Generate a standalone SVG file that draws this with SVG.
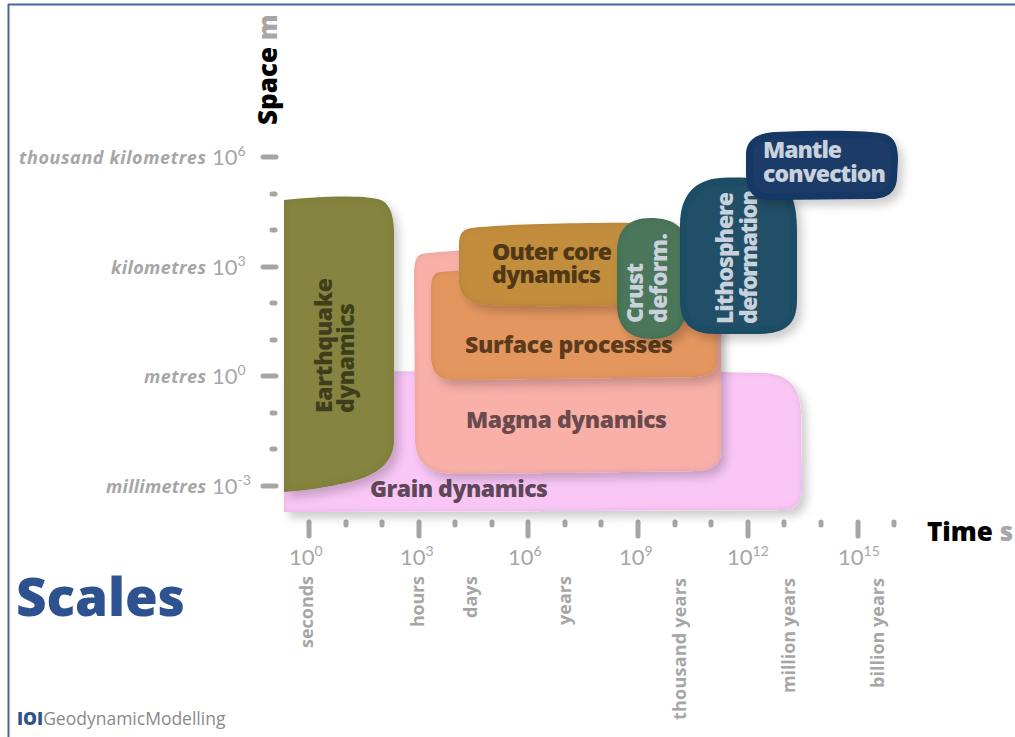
<svg xmlns="http://www.w3.org/2000/svg" width="1015" height="737" viewBox="0 0 1015 737">
<style>
.lbl{font-family:"Open Sans","Noto Sans","Liberation Sans",sans-serif;font-weight:800;font-size:23px}
.ax{font-family:"Open Sans","Noto Sans","Liberation Sans",sans-serif;fill:#a6a6a6}
.yw{font-weight:700;font-style:italic;font-size:18px}
.num{font-family:Lato,"Open Sans",sans-serif;font-weight:400;font-size:22px}
.unit{font-weight:700;font-size:18px}
.tk{stroke:#a6a6a6;stroke-width:5;stroke-linecap:round}
.lt{fill:#c9d2dc}
.hd{font-family:"Open Sans","Noto Sans","Liberation Sans",sans-serif;font-weight:800}
</style>
<defs>
<filter id="sh" x="-15%" y="-15%" width="135%" height="140%">
<feGaussianBlur in="SourceAlpha" stdDeviation="5" result="b"/>
<feOffset in="b" dx="5" dy="6" result="o"/>
<feFlood flood-color="#000" flood-opacity="0.2"/>
<feComposite in2="o" operator="in" result="ds"/>
<feGaussianBlur in="SourceAlpha" stdDeviation="3" result="ib"/>
<feComposite in="SourceAlpha" in2="ib" operator="arithmetic" k2="1" k3="-1" result="ring"/>
<feFlood flood-color="#000" flood-opacity="0.2"/>
<feComposite in2="ring" operator="in" result="inner"/>
<feMerge><feMergeNode in="ds"/><feMergeNode in="SourceGraphic"/><feMergeNode in="inner"/></feMerge>
</filter>
</defs>
<rect width="1015" height="737" fill="#fff"/>
<g id="frame" fill="none" stroke="#4766a6" stroke-width="2">
<line x1="8" y1="4.5" x2="1015" y2="4.5"/>
<line x1="8.5" y1="4" x2="8.5" y2="737"/>
</g>

<g id="y-axis">
<g class="tk">
<line x1="263" y1="157" x2="276" y2="157"/>
<line x1="272" y1="194" x2="275" y2="194"/>
<line x1="272" y1="230" x2="275" y2="230"/>
<line x1="263" y1="267" x2="276" y2="267"/>
<line x1="272" y1="303" x2="275" y2="303"/>
<line x1="272" y1="340" x2="275" y2="340"/>
<line x1="263" y1="376" x2="276" y2="376"/>
<line x1="272" y1="413" x2="275" y2="413"/>
<line x1="272" y1="449" x2="275" y2="449"/>
<line x1="263" y1="486" x2="276" y2="486"/>
</g>
<text class="ax yw" x="206" y="164" text-anchor="end" textLength="187">thousand kilometres</text>
<text class="ax yw" x="206" y="274" text-anchor="end" textLength="95">kilometres</text>
<text class="ax yw" x="206" y="383" text-anchor="end" textLength="62">metres</text>
<text class="ax yw" x="206" y="493" text-anchor="end" textLength="100">millimetres</text>
<text class="ax num" x="212" y="165">10<tspan font-size="14" dy="-9">6</tspan></text>
<text class="ax num" x="212" y="275">10<tspan font-size="14" dy="-9">3</tspan></text>
<text class="ax num" x="212" y="384">10<tspan font-size="14" dy="-9">0</tspan></text>
<text class="ax num" x="212" y="494">10<tspan font-size="14" dy="-9">-3</tspan></text>
<text class="hd" transform="translate(277,125) rotate(-90)" font-size="26"><tspan fill="#000">Space</tspan><tspan fill="#a6a6a6"> m</tspan></text>
</g>

<g id="x-axis">
<g class="tk">
<line x1="309" y1="522" x2="309" y2="536"/>
<line x1="346" y1="522" x2="346" y2="525"/>
<line x1="382" y1="522" x2="382" y2="525"/>
<line x1="419" y1="522" x2="419" y2="536"/>
<line x1="455" y1="522" x2="455" y2="525"/>
<line x1="492" y1="522" x2="492" y2="525"/>
<line x1="528" y1="522" x2="528" y2="536"/>
<line x1="565" y1="522" x2="565" y2="525"/>
<line x1="601" y1="522" x2="601" y2="525"/>
<line x1="638" y1="522" x2="638" y2="536"/>
<line x1="675" y1="522" x2="675" y2="525"/>
<line x1="711" y1="522" x2="711" y2="525"/>
<line x1="748" y1="522" x2="748" y2="536"/>
<line x1="784" y1="522" x2="784" y2="525"/>
<line x1="821" y1="522" x2="821" y2="525"/>
<line x1="858" y1="522" x2="858" y2="536"/>
<line x1="894" y1="522" x2="894" y2="525"/>
</g>
<text class="ax num" x="289" y="565">10<tspan font-size="14" dy="-9">0</tspan></text>
<text class="ax num" x="400" y="565">10<tspan font-size="14" dy="-9">3</tspan></text>
<text class="ax num" x="508" y="565">10<tspan font-size="14" dy="-9">6</tspan></text>
<text class="ax num" x="619" y="565">10<tspan font-size="14" dy="-9">9</tspan></text>
<text class="ax num" x="727" y="565">10<tspan font-size="14" dy="-9">12</tspan></text>
<text class="ax num" x="838" y="565">10<tspan font-size="14" dy="-9">15</tspan></text>
<text class="ax unit" transform="translate(313,576) rotate(-90)" text-anchor="end" textLength="72">seconds</text>
<text class="ax unit" transform="translate(424,576) rotate(-90)" text-anchor="end" textLength="51">hours</text>
<text class="ax unit" transform="translate(477,576) rotate(-90)" text-anchor="end" textLength="42">days</text>
<text class="ax unit" transform="translate(571,576) rotate(-90)" text-anchor="end" textLength="49">years</text>
<text class="ax unit" transform="translate(686,578) rotate(-90)" text-anchor="end" textLength="142">thousand years</text>
<text class="ax unit" transform="translate(795,578) rotate(-90)" text-anchor="end" textLength="115">million years</text>
<text class="ax unit" transform="translate(884,578) rotate(-90)" text-anchor="end" textLength="110">billion years</text>
<text class="hd" x="927" y="541" font-size="26"><tspan fill="#000">Time</tspan><tspan fill="#a6a6a6"> s</tspan></text>
</g>

<g id="grain">
<path filter="url(#sh)" fill="#f9c6f6" d="M284,372 C450,371 650,370 765,373 C790,375 800,388 801,412 L802,488 C802,503 796,510 782,510 L284,512 Z"/>
<text class="lbl" x="370" y="497" fill="#5e4858" textLength="178">Grain dynamics</text>
</g>
<g id="earthquake">
<path filter="url(#sh)" fill="#858441" d="M284,200 C320,196 360,195 378,199 C389,202 393,212 394,230 L394,440 C394,462 378,475 350,482 C325,488 300,491 284,492 Z"/>
<text class="lbl" fill="#3f3e1b" transform="rotate(-90)"><tspan x="-413" y="332" textLength="135">Earthquake</tspan><tspan x="-413" y="354" textLength="110">dynamics</tspan></text>
</g>
<g id="magma">
<path filter="url(#sh)" fill="#f8b0a9" d="M422,254 C480,246 620,248 700,250 C716,251 721,260 721,275 L721,450 C721,465 712,470 695,471 L460,474 C430,474 416,465 415,440 L414,275 C414,262 416,255 422,254 Z"/>
<text class="lbl" x="466" y="428" fill="#6a4a4c" textLength="201">Magma dynamics</text>
</g>
<g id="surface">
<path filter="url(#sh)" fill="#e4965e" d="M440,272 C470,268 600,268 700,270 C712,271 717,280 717,295 L717,360 C717,372 710,376 695,377 L455,380 C438,380 431,372 431,355 L431,290 C431,278 433,273 440,272 Z"/>
<text class="lbl" x="465" y="353" fill="#5b3b1b" textLength="208">Surface processes</text>
</g>
<g id="outercore">
<path filter="url(#sh)" fill="#c28d3c" d="M472,228 C500,224 600,222 660,223 C680,224 690,230 690,245 L690,298 C660,305 560,308 490,305 C468,304 459,295 459,280 L459,245 C459,233 463,229 472,228 Z"/>
<text class="lbl" fill="#4e3816" x="492" y="260" textLength="120">Outer core</text>
<text class="lbl" fill="#4e3816" x="492" y="283" textLength="109">dynamics</text>
</g>
<g id="crust">
<path filter="url(#sh)" fill="#4c765a" d="M650,218 C675,218 687,228 687,250 L687,305 C687,328 673,339 652,339 C630,339 617,328 617,305 L617,252 C617,230 628,218 650,218 Z"/>
<text class="lbl lt" transform="rotate(-90)" x="-323" y="643" textLength="60">Crust</text>
<text class="lbl lt" transform="rotate(-90)" x="-323" y="667" textLength="90">deform.</text>
</g>
<g id="lithosphere">
<path filter="url(#sh)" fill="#214f68" d="M720,178 C755,176 785,180 793,200 C797,212 797,225 797,240 L797,300 C797,325 785,333 760,334 L715,334 C690,334 680,322 680,300 L680,225 C680,195 695,180 720,178 Z"/>
<text class="lbl lt" transform="rotate(-90)" x="-324" y="733" textLength="132">Lithosphere</text>
<text class="lbl lt" transform="rotate(-90)" x="-324" y="757" textLength="134">deformation</text>
</g>
<g id="mantle">
<path filter="url(#sh)" fill="#1b3a68" d="M775,132 C820,130 870,130 885,134 C896,138 898,148 898,160 L897,178 C896,193 887,199 870,199 L770,200 C752,200 746,190 746,172 L746,155 C746,140 757,133 775,132 Z"/>
<text class="lbl lt" x="763" y="158" textLength="79">Mantle</text>
<text class="lbl lt" x="763" y="182" textLength="123">convection</text>
</g>

<g id="title">
<text class="hd" x="16" y="616" font-size="53" fill="#2e5290" textLength="169">Scales</text>
<text x="17" y="725" font-family="'Open Sans','Noto Sans',sans-serif" font-size="17.5"><tspan font-weight="800" fill="#2e5290">IOI</tspan><tspan fill="#8a8a8a">GeodynamicModelling</tspan></text>
</g>
</svg>
